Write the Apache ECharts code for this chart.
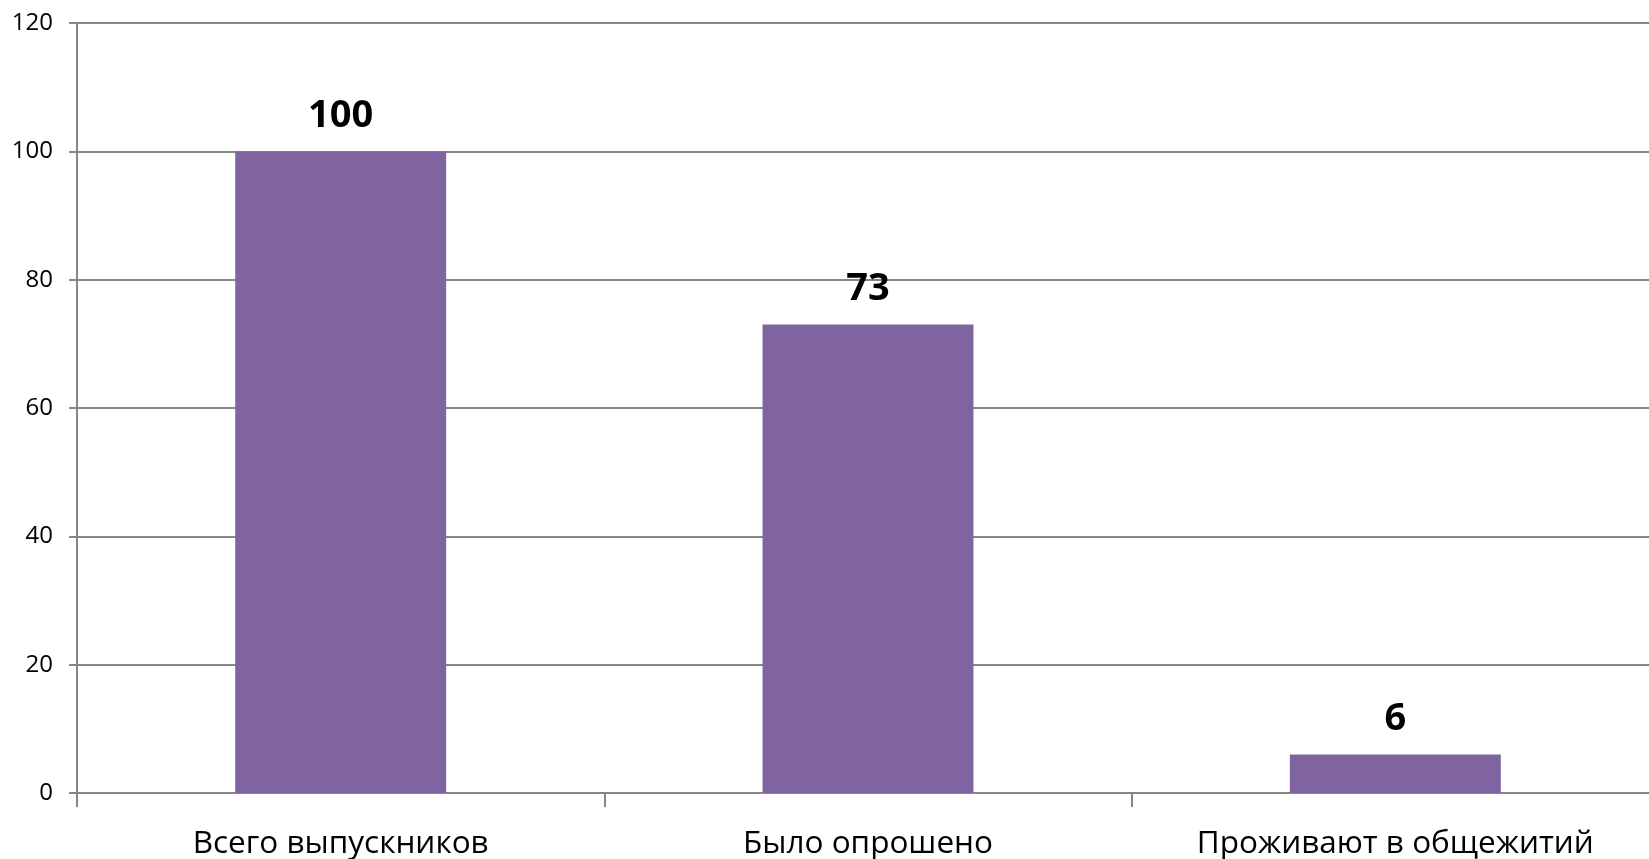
<!DOCTYPE html>
<html><head><meta charset="utf-8">
<script src="https://cdn.jsdelivr.net/npm/echarts@6/dist/echarts.min.js"></script>
<style>html,body{margin:0;padding:0;background:#fff}#c{width:1649px;height:859px}</style>
</head><body><div id="c"></div>
<script>
const categories = ['Всего выпускников', 'Было опрошено', 'Проживают в общежитий'];
const values = [100, 73, 6];
const yTicks = [0, 20, 40, 60, 80, 100, 120];
const FONT = '"Open Sans", "Noto Sans", sans-serif';
const chart = echarts.init(document.getElementById('c'));
chart.setOption({
  animation: false,
  grid: { left: 77, top: 23, bottom: 66, width: 1582, containLabel: false, outerBoundsMode: 'none' },
  xAxis: {
    type: 'category', data: categories,
    axisLine: { lineStyle: { color: '#868686', width: 2 } },
    axisTick: { show: true, length: 14, lineStyle: { color: '#868686', width: 2 } },
    axisLabel: { color: '#000', fontSize: 31.5, fontFamily: FONT, margin: 35 }
  },
  yAxis: {
    type: 'value', min: yTicks[0], max: yTicks[yTicks.length - 1], interval: 20,
    axisLine: { show: true, lineStyle: { color: '#868686', width: 2 } },
    axisTick: { show: true, length: 8, lineStyle: { color: '#868686', width: 2 } },
    splitLine: { lineStyle: { color: '#868686', width: 2 } },
    axisLabel: { color: '#000', fontSize: 24, fontFamily: FONT, margin: 24 }
  },
  series: [{
    type: 'bar', data: values, barWidth: '40%',
    itemStyle: { color: '#8064A2' },
    label: { show: true, position: 'top', distance: 16, color: '#000', fontSize: 38, fontWeight: 'bold', fontFamily: FONT }
  }]
});
</script></body></html>
